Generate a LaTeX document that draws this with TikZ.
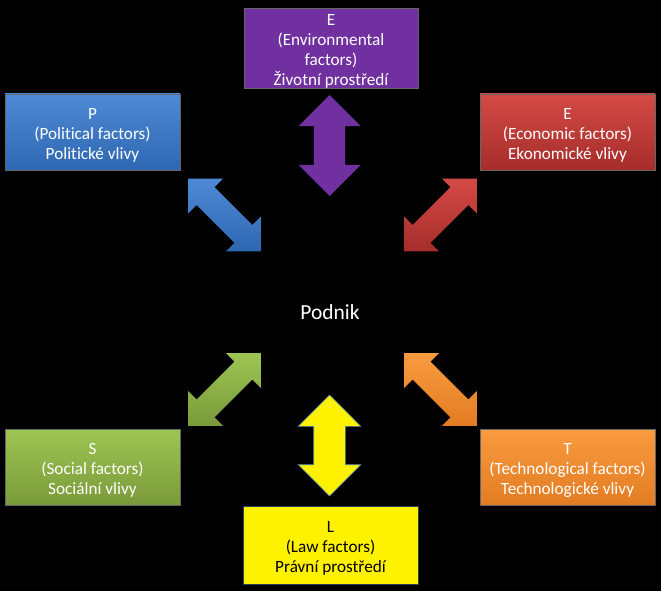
\documentclass[tikz,border=0pt]{standalone}
\usepackage{fontspec}
\setmainfont{Carlito}[Ligatures=NoCommon]
\usepackage{tikz}
\usetikzlibrary{shapes.arrows}

\definecolor{EnvPurple}{HTML}{7030A0}
\definecolor{PolTop}{HTML}{4F8AD6}
\definecolor{PolBot}{HTML}{2E67B1}
\definecolor{EcoTop}{HTML}{D44A46}
\definecolor{EcoBot}{HTML}{A52D2A}
\definecolor{SocTop}{HTML}{9DC553}
\definecolor{SocBot}{HTML}{7A9A3A}
\definecolor{TecTop}{HTML}{F99B40}
\definecolor{TecBot}{HTML}{E27C22}
\definecolor{LawLine}{HTML}{4F81BD}
\newcommand{\boxstrut}{\rule{0pt}{17pt}}

\begin{document}
\begin{tikzpicture}[x=1pt, y=-1pt,
      every node/.append style={font=\fontsize{17.2}{20}\selectfont}]
    \tikzstyle{factor} = [rectangle, align=center, text=white, minimum width=175pt,
      minimum height=76pt, inner sep=0pt, draw=black!60, line width=0.4pt]
    \tikzstyle{updown} = [double arrow, minimum height=101pt, minimum width=62pt,
      inner xsep=0pt, inner ysep=15.5pt, double arrow head extend=15.5pt, rotate=90]
    \tikzstyle{slant} = [double arrow, minimum height=103pt, minimum width=49pt,
      inner xsep=0pt, inner ysep=12.5pt, double arrow head extend=12pt]
    \fill[black] (0,0) rectangle (661,591);
    \useasboundingbox (0,0) rectangle (661,591);

    \node (envbox) [factor, fill=EnvPurple, minimum width=174pt, minimum height=77pt]
      at (331,48.5) {\boxstrut E\\(Environmental\\factors)\\Životní prostředí};
    \node (polbox) [factor, top color=PolTop, bottom color=PolBot]
      at (92.5,132) {\boxstrut P\\(Political factors)\\Politické vlivy};
    \node (ecobox) [factor, top color=EcoTop, bottom color=EcoBot]
      at (567.5,132) {\boxstrut E\\(Economic factors)\\Ekonomické vlivy};
    \node (socbox) [factor, top color=SocTop, bottom color=SocBot]
      at (92.5,467) {\boxstrut S\\(Social factors)\\Sociální vlivy};
    \node (tecbox) [factor, top color=TecTop, bottom color=TecBot]
      at (567.5,467) {\boxstrut T\\(Technological factors)\\Technologické vlivy};
    \node (lawbox) [factor, fill=yellow, text=black, draw=LawLine!50!black, minimum height=78pt]
      at (330.5,545) {\boxstrut L\\(Law factors)\\Právní prostředí};

    \node (podnik) [text=white, font=\fontsize{21.5}{24}\selectfont] at (330,312) {Podnik};

    \node (envarr) [updown, fill=EnvPurple] at (329.5,145.5) {};
    \node (lawarr) [updown, fill=yellow, draw=LawLine, line width=0.6pt] at (329.5,445.5) {};
    \node (polarr) [slant, rotate=-45, shading angle=45, top color=PolTop, bottom color=PolBot]
      at (224.5,215) {};
    \node (ecoarr) [slant, rotate=45, shading angle=-45, top color=EcoTop, bottom color=EcoBot]
      at (440.5,215) {};
    \node (socarr) [slant, rotate=45, shading angle=-45, top color=SocTop, bottom color=SocBot]
      at (224.5,389.5) {};
    \node (tecarr) [slant, rotate=-45, shading angle=45, top color=TecTop, bottom color=TecBot]
      at (440.5,389.5) {};
\end{tikzpicture}
\end{document}
